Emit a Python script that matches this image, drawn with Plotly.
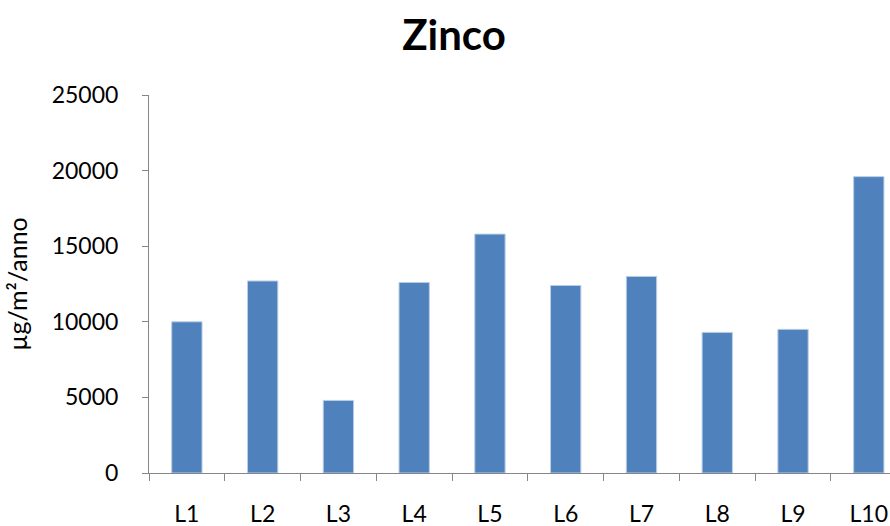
import plotly.graph_objects as go

categories = ["L1", "L2", "L3", "L4", "L5", "L6", "L7", "L8", "L9", "L10"]
values = [10000, 12700, 4800, 12600, 15800, 12400, 13000, 9300, 9500, 19600]
y_ticks = [0, 5000, 10000, 15000, 20000, 25000]

FONT = "Lato, Carlito, Calibri, sans-serif"

fig = go.Figure(
    go.Bar(
        x=categories,
        y=values,
        marker=dict(color="#4F81BD", line=dict(color="#B9CDE5", width=1)),
    )
)

fig.update_layout(
    width=890,
    height=526,
    margin=dict(l=148.6, r=0, t=94.7, b=52.7),
    paper_bgcolor="white",
    plot_bgcolor="white",
    bargap=0.6,
    showlegend=False,
    font=dict(family=FONT, color="#000000", size=23),
    title=dict(
        text="<b>Zinco</b>",
        font=dict(family=FONT, size=42, color="#000000"),
        x=454 / 890,
        xanchor="center",
        xref="container",
        y=1 - 35 / 526,
        yanchor="middle",
        yref="container",
    ),
)

fig.update_xaxes(
    range=[-0.5, 9.28],
    automargin=False,
    showline=True,
    linecolor="#868686",
    linewidth=1,
    ticks="outside",
    tickson="boundaries",
    ticklen=7,
    tickcolor="#868686",
    tickfont=dict(family=FONT, size=23, color="#000000"),
    ticklabelstandoff=20,
    showgrid=False,
    zeroline=False,
    fixedrange=True,
)

fig.update_yaxes(
    range=[0, 25000],
    automargin=False,
    tickvals=y_ticks,
    ticktext=[str(v) for v in y_ticks],
    showline=True,
    linecolor="#868686",
    linewidth=1,
    ticks="outside",
    ticklen=6,
    tickcolor="#868686",
    tickfont=dict(family=FONT, size=23, color="#000000"),
    ticklabelstandoff=19,
    showgrid=False,
    zeroline=False,
    title=dict(
        text="µg/m²/anno",
        font=dict(family=FONT, size=25, color="#000000"),
        standoff=16,
    ),
    fixedrange=True,
)

fig.write_html("out.html")
